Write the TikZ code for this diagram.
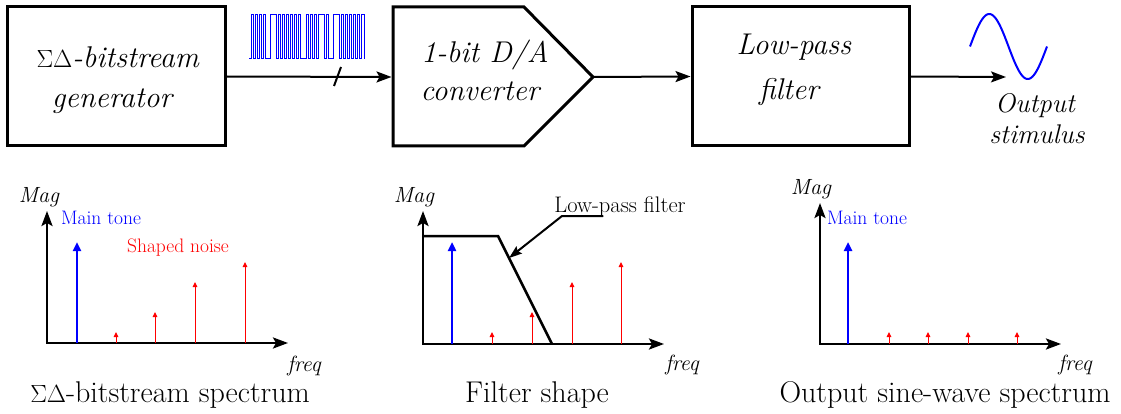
\documentclass[tikz,border=0pt]{standalone}
\usetikzlibrary{arrows.meta}
\begin{document}
\begin{tikzpicture}[x=1pt,y=-1pt,
  blk/.style={draw,line width=3pt,minimum width=217pt,minimum height=139pt,inner sep=0pt},
  conn/.style={line width=2pt,-{Stealth[length=15pt,width=11pt,inset=3pt]}},
  axis/.style={line width=2.5pt,{Stealth[length=15pt,width=11pt,inset=3pt]}-{Stealth[length=15pt,width=11pt,inset=3pt]}},
  tone/.style={blue,line width=2.5pt,-{Triangle[length=9pt,width=8pt]}},
  noise/.style={red,line width=1pt,-{Triangle[length=5pt,width=4.5pt]}},
  boxtxt/.style={font=\fontsize{30}{36}\selectfont,anchor=base,inner sep=0pt},
  captxt/.style={font=\fontsize{30}{36}\selectfont,anchor=base,inner sep=0pt},
  lab/.style={font=\fontsize{19.5}{22}\selectfont,anchor=base,inner sep=0pt},
  axlab/.style={font=\fontsize{22}{25}\selectfont\itshape,anchor=base,inner sep=0pt},
  outlab/.style={font=\fontsize{27}{32}\selectfont\itshape,anchor=base,inner sep=0pt}]
\useasboundingbox (0,0) rectangle (1121,414);
% ---- top chain ----
\node[blk,minimum width=218pt] (gen) at (116,76.5) {};
\node[boxtxt] (gen1) at (118,68) {$\Sigma\Delta$\textit{-bitstream}};
\node[boxtxt] (gen2) at (113,108) {\textit{generator}};
\coordinate (dacW) at (393,77);
\coordinate (dacE) at (593,77);
\draw[line width=3pt,line join=miter] (393,7) -- (524,7) -- (dacE) -- (524,146) -- (393,146) -- cycle;
\node[boxtxt] (dac1) at (485,63) {\textit{1-bit D/A}};
\node[boxtxt] (dac2) at (481,101) {\textit{converter}};
\node[blk] (lpf) at (800.5,76.5) {};
\node[boxtxt] (lpf1) at (794,55) {\textit{Low-pass}};
\node[boxtxt] (lpf2) at (790,100) {\textit{filter}};
\coordinate (out) at (1006,77);
\draw[conn,shorten >=1.5pt] (gen.east) -- (dacW);
\draw[conn] (dacE) -- (lpf.west);
\draw[conn] (lpf.east) -- (out);
\coordinate (sl1) at (334,86);
\coordinate (sl2) at (341,67);
\draw[line width=2pt] (sl1) -- (sl2);
% bitstream
\draw[blue,line width=0.9pt,line join=miter] (249,58)
  \foreach \s/\e in {251/253,255/257,259/261,263/265,270/276,278/280,282/284,286/288,290/292,294/296,298/300,306/308,310/312,314/316,318/324,326/328,333/339,341/343,345/347,349/351,353/355,357/359,361/364}
  { -- (\s,58) -- (\s,14) -- (\e,14) -- (\e,58) } -- (365,58);
% sine
\draw[blue,line width=2pt,domain=0:77,samples=80,smooth] plot ({\x+970},{46.5-32.5*sin(\x/77*360)});
\node[outlab] (o1) at (1035,113) {Output};
\node[outlab] (o2) at (1037,144) {stimulus};
% ---- plot 1 ----
\draw[axis] (47,211) -- (47,343) -- (288,343);
\draw[tone] (77,343) -- (77,242);
\draw[noise] (116,343) -- (116,332);
\draw[noise] (155,343) -- (155,312);
\draw[noise] (195,343) -- (195,282);
\draw[noise] (245,343) -- (245,262);
\node[axlab] (m1) at (39,203) {Mag};
\node[lab,text=blue] (t1) at (101,225) {Main tone};
\node[lab,text=red] (n1) at (178,252) {Shaped noise};
\node[axlab] (f1) at (304,371) {freq};
\node[captxt] (c1) at (170,402) {$\Sigma\Delta$-bitstream spectrum};
% ---- plot 2 ----
\draw[axis] (423,211) -- (423,344) -- (664,344);
\draw[line width=2.5pt,line join=miter] (423,236) -- (498,236) -- (552,344);
\draw[tone] (452,344) -- (452,242);
\draw[noise] (492,344) -- (492,332);
\draw[noise] (532,344) -- (532,312);
\draw[noise] (572,344) -- (572,282);
\draw[noise] (621,344) -- (621,262);
\node[axlab] (m2) at (414,203) {Mag};
\node[lab,font=\fontsize{22.5}{26}\selectfont] (lpl) at (620,212) {Low-pass filter};
\coordinate (ld1) at (603,216);
\coordinate (ld2) at (562,216);
\coordinate (ld3) at (509,258);
\draw[line width=2pt,-{Stealth[length=13pt,width=9pt,inset=2pt]}] (ld1) -- (ld2) -- (ld3);
\node[axlab] (f2) at (682,370) {freq};
\node[captxt] (c2) at (537,402) {Filter shape};
% ---- plot 3 ----
\draw[axis] (820,203) -- (820,344) -- (1061,344);
\draw[tone] (848,344) -- (848,242);
\foreach \xx in {889,928,968,1017} { \draw[noise] (\xx,344) -- (\xx,332); }
\node[axlab] (m3) at (811,195) {Mag};
\node[lab,text=blue] (t3) at (867,225) {Main tone};
\node[axlab] (f3) at (1075,370) {freq};
\node[captxt] (c3) at (945,402) {Output sine-wave spectrum};
\end{tikzpicture}
\end{document}
